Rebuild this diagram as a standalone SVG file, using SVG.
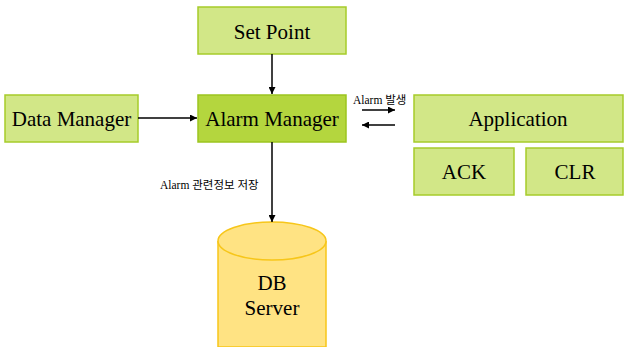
<svg xmlns="http://www.w3.org/2000/svg" width="625" height="347" viewBox="0 0 625 347">
<defs>
<marker id="ah" viewBox="0 0 10 10" refX="10" refY="5" markerWidth="7" markerHeight="7" orient="auto" markerUnits="userSpaceOnUse"><path d="M0,0 L10,5 L0,10 z" fill="#000"/></marker>
<style>
.box{fill:#d2e787;stroke:#a6cc2a;stroke-width:1.5}
.main{fill:#b4d63e;stroke:#9cc51f;stroke-width:1.5}
.t{font-family:'Liberation Serif','Times New Roman',serif;font-size:21px;fill:#000;text-anchor:middle}
.s{font-family:'Liberation Serif','Noto Sans CJK KR',serif;font-size:11.5px;fill:#000}
.c{stroke:#000;stroke-width:1.5;fill:none;marker-end:url(#ah)}
.db{fill:#ffe383;stroke:#f7c61a;stroke-width:1.5}
</style>
</defs>
<g id="setpoint"><rect class="box" x="198" y="7" width="148" height="47"/><text class="t" x="272" y="39">Set Point</text></g>
<g id="alarmmanager"><rect class="main" x="198" y="95" width="148" height="47"/><text class="t" x="272" y="126">Alarm Manager</text></g>
<g id="datamanager"><rect class="box" x="5" y="95" width="133" height="47"/><text class="t" x="71.5" y="126">Data Manager</text></g>
<g id="application"><rect class="box" x="414" y="95" width="209" height="47"/><text class="t" x="518" y="126">Application</text></g>
<g id="ack"><rect class="box" x="414" y="148" width="100" height="47"/><text class="t" x="464" y="179">ACK</text></g>
<g id="clr"><rect class="box" x="526" y="148" width="97" height="47"/><text class="t" x="575" y="179">CLR</text></g>
<g id="dbserver">
<path class="db" d="M218,241 L218,347 L326,347 L326,241"/>
<path class="db" d="M218,241 A54,19 0 0 1 326,241 A54,19 0 0 1 218,241 z"/>
<text class="t" x="272" y="290">DB</text><text class="t" x="272" y="315">Server</text>
</g>
<g id="connectors">
<line class="c" x1="272" y1="54" x2="272" y2="94"/>
<line class="c" x1="138" y1="118" x2="197" y2="118"/>
<line class="c" x1="272" y1="142" x2="272" y2="222"/>
<line class="c" x1="362" y1="110" x2="395" y2="110"/>
<line class="c" x1="395" y1="125" x2="362" y2="125"/>
<text class="s" x="353" y="104">Alarm 발생</text>
<text class="s" x="160" y="189">Alarm 관련정보 저장</text>
</g>
</svg>
